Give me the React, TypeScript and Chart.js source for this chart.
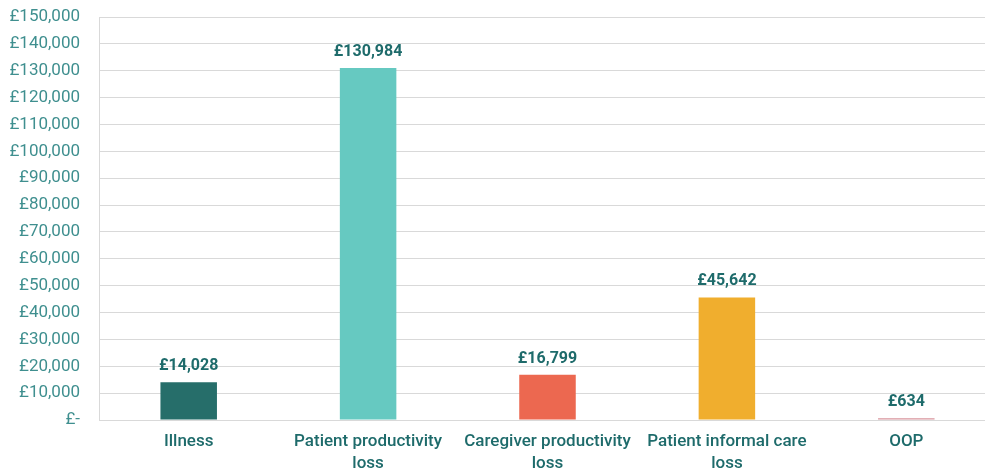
import React, { useEffect, useRef } from "react";
import { Chart, registerables } from "chart.js";

Chart.register(...registerables);

const categories: (string | string[])[] = [
  "Illness",
  ["Patient productivity", "loss"],
  ["Caregiver productivity", "loss"],
  ["Patient informal care", "loss"],
  "OOP",
];
const costs: number[] = [14028, 130984, 16799, 45642, 634];
const barColors: string[] = ["#266e6a", "#66c9c1", "#ec6850", "#f0ae2e", "#d8959d"];
const yMax = 150000;
const yStep = 10000;

const fmt = (v: number) => (v === 0 ? "£-" : "£" + v.toLocaleString("en-GB"));

const valueLabels = {
  id: "valueLabels",
  afterDatasetsDraw(chart: any) {
    const ctx = chart.ctx;
    const meta = chart.getDatasetMeta(0);
    ctx.save();
    ctx.font = "bold 16px Roboto";
    ctx.fillStyle = "#1e6b6b";
    ctx.textAlign = "center";
    ctx.textBaseline = "bottom";
    meta.data.forEach((el: any, i: number) => {
      ctx.fillText(fmt(costs[i]), el.x, el.y - 8);
    });
    ctx.restore();
  },
};

export default function App() {
  const ref = useRef<HTMLCanvasElement | null>(null);
  useEffect(() => {
    if (!ref.current) return;
    const chart = new Chart(ref.current, {
      type: "bar",
      data: {
        labels: categories as any,
        datasets: [
          {
            data: costs,
            backgroundColor: barColors,
            barPercentage: 0.63,
            categoryPercentage: 0.5,
          },
        ],
      },
      options: {
        animation: false,
        responsive: false,
        maintainAspectRatio: false,
        layout: { padding: { top: 17, right: 0, left: 0, bottom: 0 } },
        plugins: { legend: { display: false }, tooltip: { enabled: false } },
        scales: {
          x: {
            afterFit: (s: any) => {
              s.height = 50;
              s.paddingLeft = 0;
              s.paddingRight = 0;
              s.paddingTop = 0;
              s.paddingBottom = 0;
            },
            grid: { display: false, drawTicks: false },
            border: { color: "#d9d9d9" },
            ticks: {
              color: "#1e6b6b",
              font: { family: "Roboto", size: 17, weight: 500 as any, lineHeight: 1.3 },
              padding: 11,
              maxRotation: 0,
              autoSkip: false,
            },
          },
          y: {
            min: 0,
            max: yMax,
            afterFit: (s: any) => {
              s.width = 99;
              s.paddingTop = 0;
              s.paddingBottom = 0;
              s.paddingLeft = 0;
              s.paddingRight = 0;
            },
            grid: { color: "#d9d9d9", drawTicks: false, lineWidth: 1 },
            border: { color: "#d9d9d9" },
            ticks: {
              stepSize: yStep,
              color: "#3f8f8f",
              padding: 19,
              font: { family: "Roboto", size: 17 },
              callback: (v: any) => fmt(Number(v)),
            },
          },
        },
      },
      plugins: [valueLabels],
    });
    return () => chart.destroy();
  }, []);
  return (
    <div
      style={{
        position: "fixed",
        left: 0,
        top: 0,
        width: 985,
        height: 470,
        overflow: "hidden",
        background: "#fff",
      }}
    >
      <canvas ref={ref} width={996} height={470} style={{ width: 996, height: 470, display: "block" }} />
    </div>
  );
}
